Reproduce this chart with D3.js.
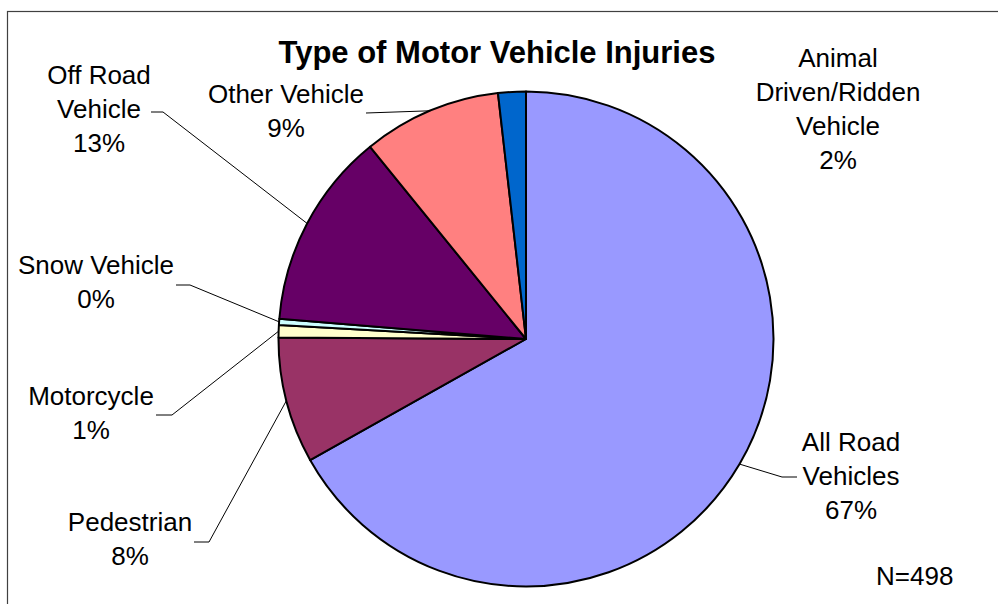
<!DOCTYPE html>
<html>
<head>
<meta charset="utf-8">
<script src="https://cdn.jsdelivr.net/npm/d3@7"></script>
<style>
  body { margin: 0; background: #fff; }
  svg { display: block; font-family: Arial, "Liberation Sans", sans-serif; }
  .slices path { stroke: #000; stroke-width: 2; stroke-linejoin: round; }
  .leaders polyline { fill: none; stroke: #000; stroke-width: 1; }
  .labels text { font-size: 26px; fill: #000; text-anchor: middle; }
</style>
</head>
<body>
<svg></svg>
<script>
// slice order is clockwise from 12 o'clock, counts out of N=498
var categories = ["All Road Vehicles", "Pedestrian", "Motorcycle", "Snow Vehicle",
                  "Off Road Vehicle", "Other Vehicle", "Animal Driven/Ridden Vehicle"];
var counts = [333, 41, 4, 2, 64, 45, 9];
var colors = ["#9999FF", "#993366", "#FFFFCC", "#CCFFFF", "#660066", "#FF8080", "#0066CC"];
var labelLines = [
  ["All Road", "Vehicles"],
  ["Pedestrian"],
  ["Motorcycle"],
  ["Snow Vehicle"],
  ["Off Road", "Vehicle"],
  ["Other Vehicle"],
  ["Animal", "Driven/Ridden", "Vehicle"]
];
var total = 498;

var width = 998,
    height = 604;

var center = { x: 526, y: 339 },
    radius = 247.5,
    lineHeight = 34;

// where each label sits (centre x, first baseline) and where its leader starts
var labelLayout = [
  { x: 851, y: 451, leader: [[797, 477], [782, 477]] },
  { x: 130, y: 531, leader: [[194, 542], [209, 542]] },
  { x: 91,  y: 405, leader: [[156, 415], [172, 415]] },
  { x: 96,  y: 274, leader: [[176, 285], [190, 285]] },
  { x: 99,  y: 84,  leader: [[151, 112], [163, 112]] },
  { x: 286, y: 103, leader: [[366, 113]] },
  { x: 838, y: 67,  leader: null }
];

var svg = d3.select("svg")
  .attr("width", width)
  .attr("height", height);

// chart frame, only left and top edges are inside the picture
svg.append("rect")
  .attr("x", 7.5)
  .attr("y", 11.5)
  .attr("width", 1100)
  .attr("height", 800)
  .attr("fill", "none")
  .attr("stroke", "#404040")
  .attr("stroke-width", 1.2);

svg.append("text")
  .attr("x", 497)
  .attr("y", 63)
  .attr("text-anchor", "middle")
  .attr("font-size", "31px")
  .attr("font-weight", "bold")
  .text("Type of Motor Vehicle Injuries");

var data = categories.map(function(c, i) {
  return { name: c, count: counts[i], color: colors[i], lines: labelLines[i], layout: labelLayout[i] };
});

var pie = d3.pie()
  .sort(null)
  .value(function(d) { return d.count; });

var arc = d3.arc()
  .innerRadius(0)
  .outerRadius(radius);

var edgeArc = d3.arc()
  .innerRadius(radius)
  .outerRadius(radius);

var arcs = pie(data);
var formatPercent = d3.format(".0%");

var g = svg.append("g")
  .attr("transform", "translate(" + center.x + "," + center.y + ")");

g.append("g")
    .attr("class", "slices")
  .selectAll("path")
  .data(arcs)
  .enter().append("path")
    .attr("fill", function(d) { return d.data.color; })
    .attr("d", arc);

svg.append("g")
    .attr("class", "leaders")
  .selectAll("polyline")
  .data(arcs.filter(function(d) { return d.data.layout.leader; }))
  .enter().append("polyline")
    .attr("points", function(d) {
      var edge = edgeArc.centroid(d);
      var pts = d.data.layout.leader.concat([[center.x + edge[0], center.y + edge[1]]]);
      return pts.map(function(p) { return p.join(","); }).join(" ");
    });

var labels = svg.append("g")
    .attr("class", "labels")
  .selectAll("text")
  .data(arcs)
  .enter().append("text")
    .attr("x", function(d) { return d.data.layout.x; })
    .attr("y", function(d) { return d.data.layout.y; });

labels.selectAll("tspan")
  .data(function(d) {
    return d.data.lines.concat([formatPercent(d.data.count / total)]).map(function(t) {
      return { text: t, x: d.data.layout.x };
    });
  })
  .enter().append("tspan")
    .attr("x", function(t) { return t.x; })
    .attr("dy", function(t, i) { return i === 0 ? 0 : lineHeight; })
    .text(function(t) { return t.text; });

svg.append("text")
  .attr("x", 876)
  .attr("y", 585)
  .attr("font-size", "26px")
  .text("N=" + total);
</script>
</body>
</html>
